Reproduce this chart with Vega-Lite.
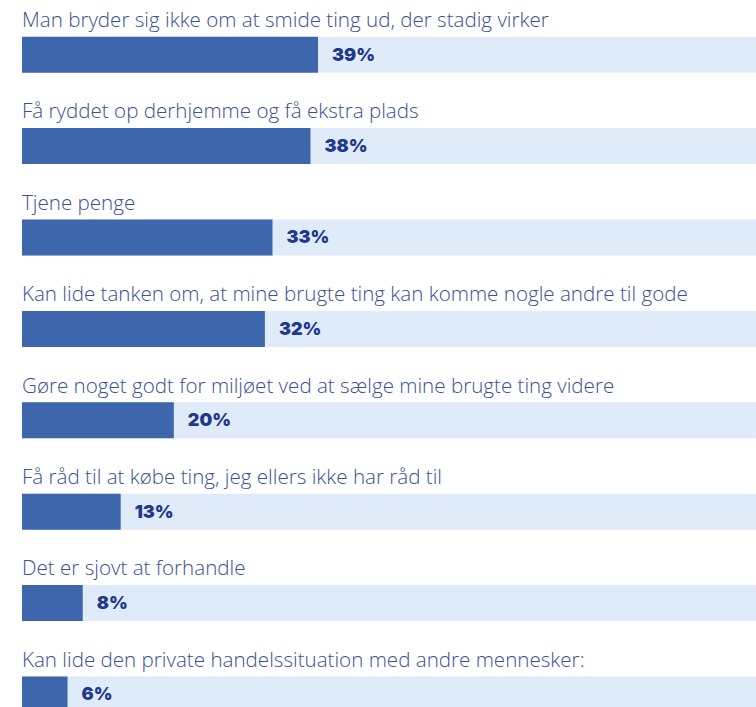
{
  "$schema": "https://vega.github.io/schema/vega-lite/v6.json",
  "width": 734,
  "height": {"step": 91.4},
  "autosize": "none",
  "padding": {"left": 22, "top": 9, "right": 0, "bottom": 0},
  "background": "white",
  "config": {"view": {"stroke": null}},
  "data": {
    "values": [
      {"label": "Man bryder sig ikke om at smide ting ud, der stadig virker", "value": 39, "full": 100},
      {"label": "Få ryddet op derhjemme og få ekstra plads", "value": 38, "full": 100},
      {"label": " Tjene penge", "value": 33, "full": 100},
      {"label": "Kan lide tanken om, at mine brugte ting kan komme nogle andre til gode", "value": 32, "full": 100},
      {"label": "Gøre noget godt for miljøet ved at sælge mine brugte ting videre", "value": 20, "full": 100},
      {"label": "Få råd til at købe ting, jeg ellers ikke har råd til", "value": 13, "full": 100},
      {"label": "Det er sjovt at forhandle", "value": 8, "full": 100},
      {"label": "Kan lide den private handelssituation med andre mennesker:", "value": 6, "full": 100}
    ]
  },
  "encoding": {
    "y": {"field": "label", "type": "nominal", "sort": null, "axis": null,
          "scale": {"paddingInner": 0, "paddingOuter": 0}}
  },
  "layer": [
    {
      "mark": {"type": "bar", "height": 36, "color": "#e0ebf9", "clip": true},
      "encoding": {
        "x": {"field": "full", "type": "quantitative", "axis": null,
              "scale": {"domain": [0, 96.7], "nice": false}}
      }
    },
    {
      "mark": {"type": "bar", "height": 36, "color": "#3d66ad"},
      "encoding": {
        "x": {"field": "value", "type": "quantitative"}
      }
    },
    {
      "mark": {"type": "text", "align": "left", "baseline": "middle", "dx": 14, "dy": 1,
               "font": "Inter", "fontWeight": 900, "fontSize": 18, "color": "#22388a"},
      "transform": [{"calculate": "datum.value + '%'", "as": "pct"}],
      "encoding": {
        "x": {"field": "value", "type": "quantitative"},
        "text": {"field": "pct", "type": "nominal"}
      }
    },
    {
      "mark": {"type": "text", "align": "left", "baseline": "alphabetic", "dy": -27.7,
               "font": "Open Sans", "fontWeight": 300, "fontSize": 20.6, "color": "#3a5192"},
      "encoding": {
        "x": {"datum": 0, "type": "quantitative"},
        "text": {"field": "label", "type": "nominal"}
      }
    }
  ]
}
